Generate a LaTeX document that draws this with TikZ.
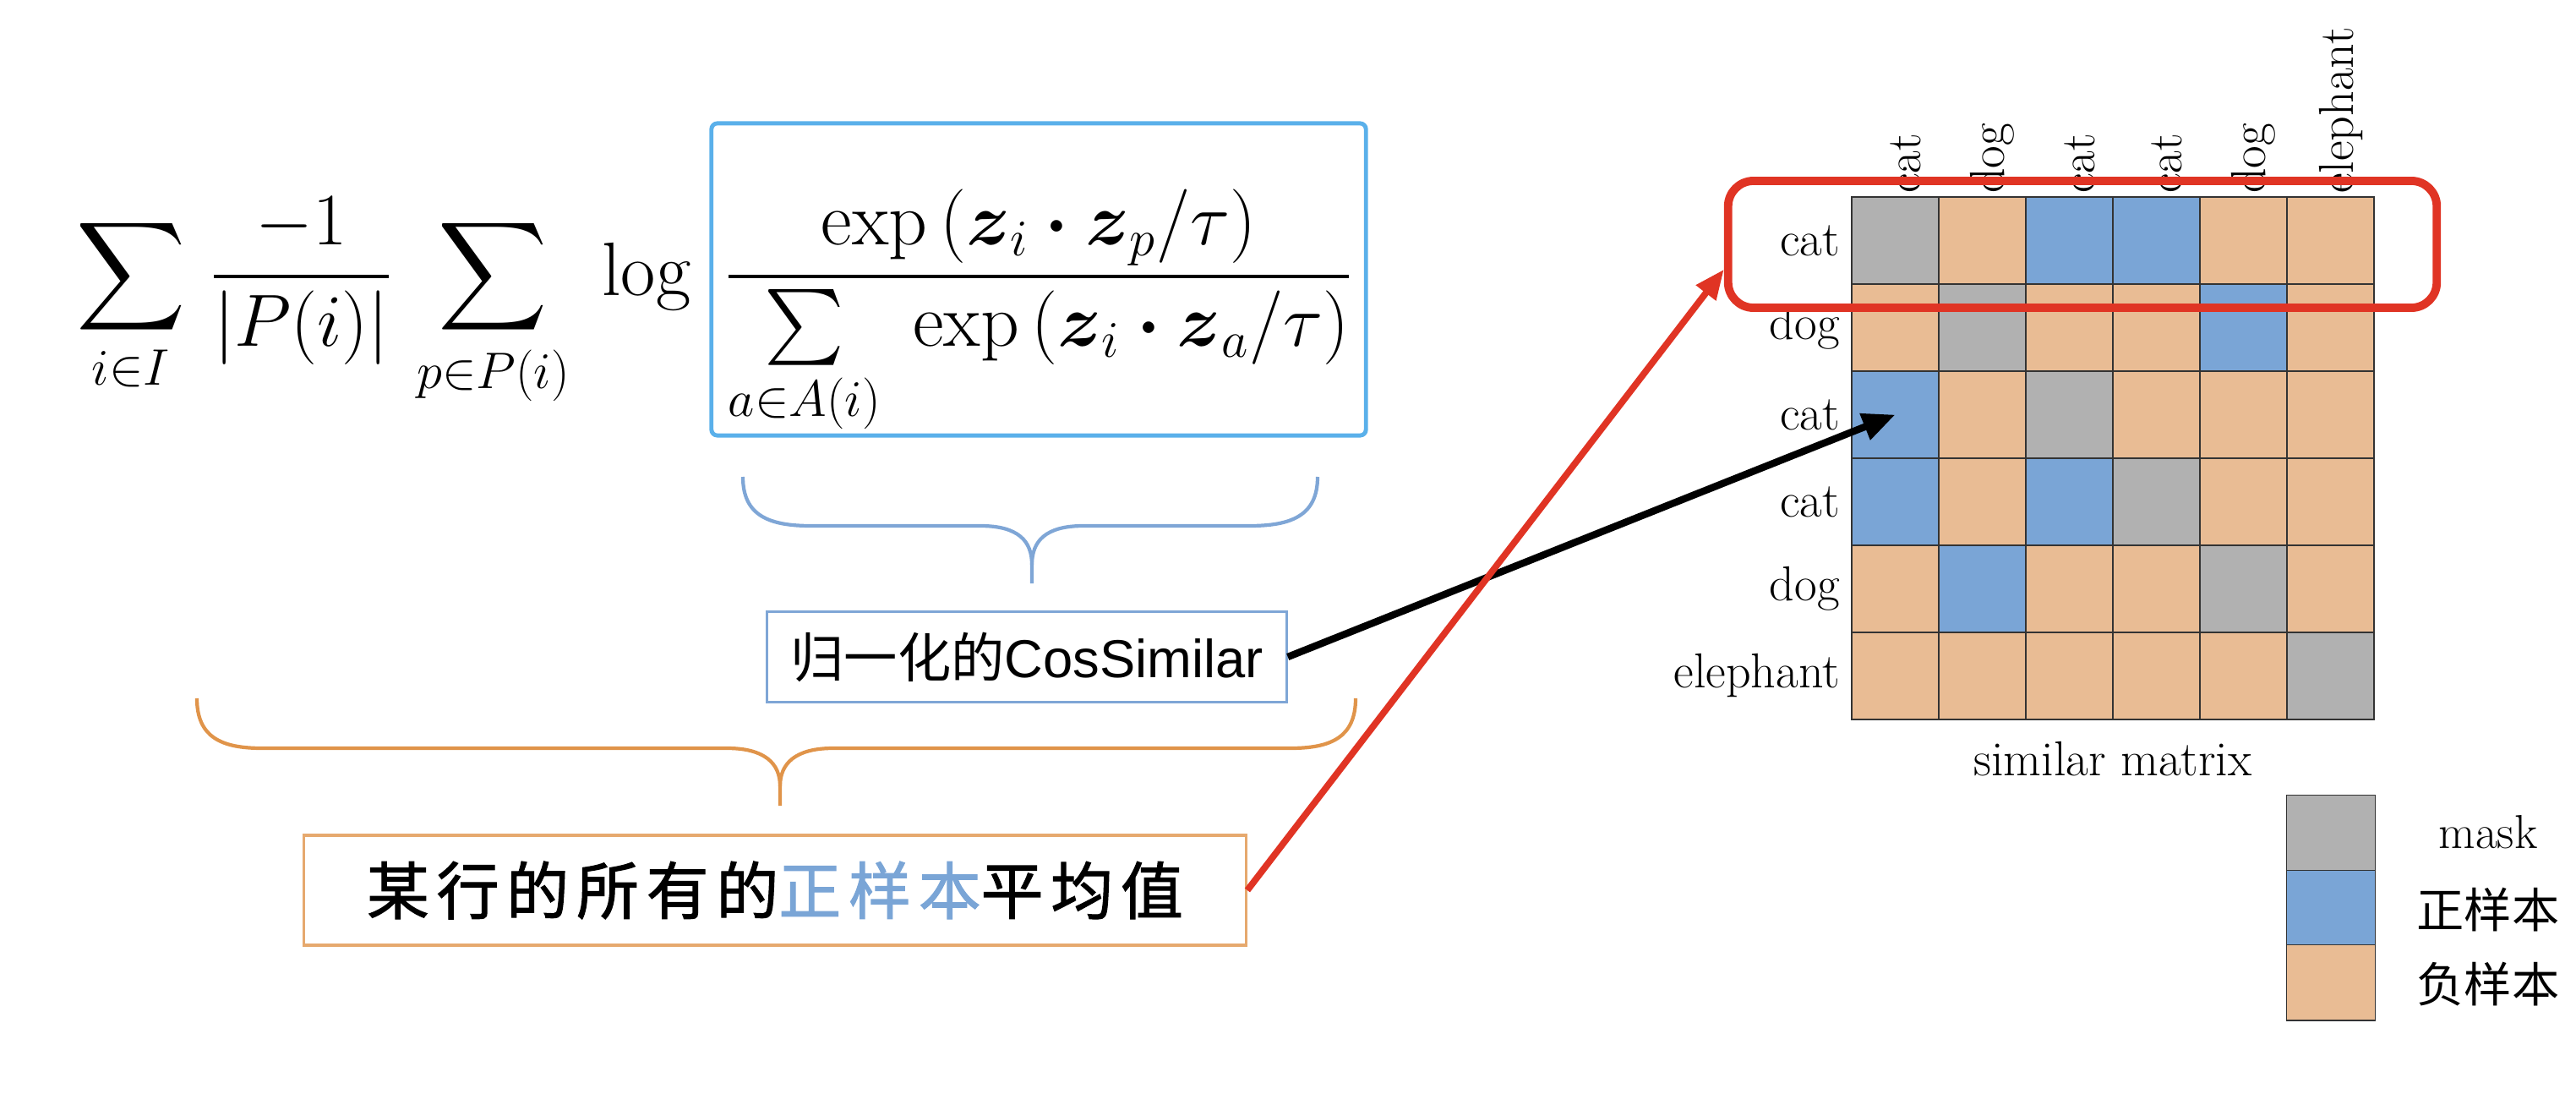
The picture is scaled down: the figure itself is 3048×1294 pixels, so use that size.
\documentclass[tikz,border=0pt]{standalone}
\usepackage{amsmath, amssymb}
\usepackage{fontspec}
\usepackage{xcolor}
\usepackage{tikz}
\usetikzlibrary{arrows.meta, positioning, calc}

\newfontfamily\cjk{Noto Sans CJK SC}
\newfontfamily\cjkheavy[FakeBold=1.5,LetterSpace=12]{Noto Sans CJK SC}
\newfontfamily\arialfont{Liberation Sans}

\definecolor{maskgray}{HTML}{B1B1B1}
\definecolor{posblue}{HTML}{7AA5D6}
\definecolor{negorange}{HTML}{E9BC94}
\definecolor{framesky}{HTML}{5AB0EA}
\definecolor{bracesteel}{HTML}{7FA6D6}
\definecolor{braceamber}{HTML}{E0944A}
\definecolor{rowred}{HTML}{E03424}
\colorlet{colM}{maskgray}
\colorlet{colP}{posblue}
\colorlet{colN}{negorange}

\begin{document}
\begin{tikzpicture}[
        x=0.01cm, y=-0.01cm,
        formula/.style={
            inner sep=0pt,
            font=\fontsize{25.5}{30}\selectfont
        },
        ratiobox/.style={
            rectangle,
            draw=framesky,
            line width=1.4pt,
            rounded corners=2pt,
            inner xsep=0pt,
            inner ysep=0pt,
            minimum width=7.74cm,
            text height=2.03cm,
            text depth=1.66cm,
            font=\fontsize{25.5}{30}\selectfont
        },
        cosbox/.style={
            rectangle,
            draw=bracesteel,
            line width=0.9pt,
            minimum width=6.14cm,
            minimum height=1.07cm,
            font=\fontsize{18}{20}\selectfont
        },
        meanbox/.style={
            rectangle,
            draw=braceamber!80,
            line width=0.9pt,
            minimum width=11.14cm,
            minimum height=1.30cm,
            font=\fontsize{21}{24}\selectfont\cjkheavy
        },
        cell/.style={
            rectangle,
            draw=black!80,
            line width=0.5pt,
            minimum width=1.03cm,
            minimum height=1.03cm,
            inner sep=0pt,
            outer sep=0pt
        },
        rowlab/.style={
            inner sep=1pt,
            font=\fontsize{16.5}{18}\selectfont
        },
        legtext/.style={
            inner sep=1pt,
            font=\fontsize{16}{18}\selectfont
        },
        rowframe/.style={
            rectangle,
            draw=rowred,
            line width=2.8pt,
            rounded corners=0.3cm,
            minimum width=8.38cm,
            minimum height=1.50cm
        },
        bluebrace/.style={draw=bracesteel, line width=1.2pt},
        amberbrace/.style={draw=braceamber, line width=1.2pt},
        pointer/.style={draw, line width=2.4pt, -{Triangle[length=11pt, width=9pt]}},
        redpointer/.style={draw=rowred, line width=2.2pt, -{Triangle[length=10pt, width=8pt]}, rowred}
    ]
        \useasboundingbox (0,0) rectangle (3048,1294);

        % Formula
        \node [ratiobox, anchor=base] (ratio) at (1229,349)
            {$\displaystyle\frac{\exp\left(\boldsymbol{z}_i\boldsymbol{\cdot}\boldsymbol{z}_p/\tau\right)}{\sum\limits_{a\in A(i)}\;\exp\left(\boldsymbol{z}_i\boldsymbol{\cdot}\boldsymbol{z}_a/\tau\right)}$};
        \node [formula, anchor=base east] (lhs) at (818,349)
            {$\displaystyle\sum_{i\in I}\,\frac{-1}{|P(i)|}\,\sum_{p\in P(i)}\;\log$};

        % Braces
        \draw [bluebrace] (879,564) .. controls (879,610) and (910,622) .. (960,622) -- (1160,622) .. controls (1205,622) and (1221,640) .. (1221,668) -- (1221,690);
        \draw [bluebrace] (1559,564) .. controls (1559,610) and (1528,622) .. (1478,622) -- (1282,622) .. controls (1237,622) and (1221,640) .. (1221,668);
        \draw [amberbrace] (233,826) .. controls (233,872) and (262,885) .. (310,885) -- (860,885) .. controls (905,885) and (923,903) .. (923,930) -- (923,953);
        \draw [amberbrace] (1604,826) .. controls (1604,872) and (1575,885) .. (1527,885) -- (986,885) .. controls (941,885) and (923,903) .. (923,930);

        % Labels
        \node [cosbox] (cos) at (1215,777) {{\cjk 归一化的}{\arialfont CosSimilar}};
        \node [meanbox] (mean) at (917,1053) {某行的所有的\textcolor{posblue}{正样本}平均值};

        % Similar matrix
        \foreach \pattern [count=\r] in {{M,N,P,P,N,N},{N,M,N,N,P,N},{P,N,M,N,N,N},{P,N,P,M,N,N},{N,P,N,N,M,N},{N,N,N,N,N,M}}
            \foreach \k [count=\c] in \pattern
                \node [cell, fill=col\k] (c-\r-\c) at ({2191+(\c-0.5)*103},{233+(\r-0.5)*103}) {};
        \foreach \lab [count=\r] in {cat,dog,cat,cat,dog,elephant}
            \node [rowlab, left=0.1cm of c-\r-1] (rl-\r) {\lab};
        \foreach \lab [count=\c] in {cat,dog,cat,cat,dog,elephant}
            \node [rowlab, rotate=90, anchor=west] (cl-\c) at ([xshift=0.12cm]c-1-\c.north) {\lab};
        \node [rowlab] (simlab) at ($(c-6-3.south east)+(0,47)$) {similar matrix};

        % Legend
        \node [cell, minimum width=1.05cm, minimum height=0.89cm, fill=maskgray] (leg-mask) at (2758,985) {};
        \node [cell, minimum width=1.05cm, minimum height=0.88cm, fill=posblue, below=0pt of leg-mask] (leg-pos) {};
        \node [cell, minimum width=1.05cm, minimum height=0.89cm, fill=negorange, below=0pt of leg-pos] (leg-neg) {};
        \node [legtext] (lt-mask) at (2944,984) {mask};
        \node [legtext] (lt-pos) at (2944,1076) {\cjk 正样本};
        \node [legtext] (lt-neg) at (2944,1164) {\cjk 负样本};

        % Row highlight
        \node [rowframe] (rowframe) at (2464,289) {};

        % Edges
        \draw [pointer] (cos.east) -- (c-3-1.center);
        \draw [redpointer] (mean.east) -- (rowframe.184);

    \end{tikzpicture}
\end{document}
